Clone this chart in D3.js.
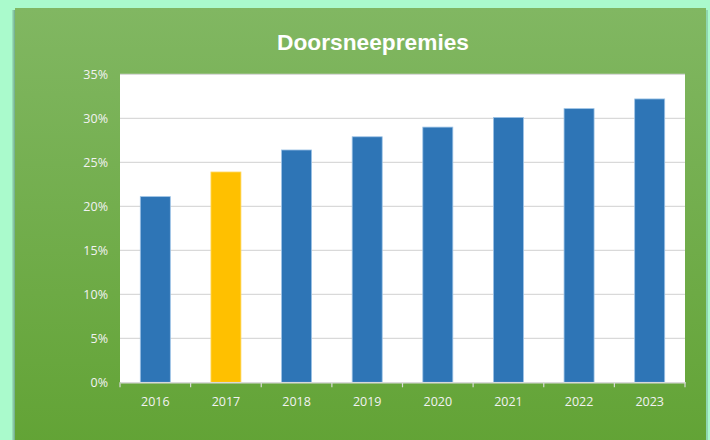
<!DOCTYPE html>
<html><head><meta charset="utf-8">
<script src="https://cdn.jsdelivr.net/npm/d3@7"></script>
<style>
html,body{margin:0;padding:0;background:#aafacc;}
svg{display:block;}
</style></head>
<body>
<script>
const categories = ["2016","2017","2018","2019","2020","2021","2022","2023"];
const values = [21.1, 23.9, 26.4, 27.9, 29.0, 30.1, 31.1, 32.2];
const highlight = ["2017"];
const yTicks = [0,5,10,15,20,25,30,35];
const title = "Doorsneepremies";

const W = 710, H = 440;
const svg = d3.select("body").append("svg").attr("width", W).attr("height", H);
const defs = svg.append("defs");
const g1 = defs.append("linearGradient").attr("id","bg").attr("x1",0).attr("y1",0).attr("x2",0).attr("y2",1);
g1.append("stop").attr("offset","0%").attr("stop-color","#81b762");
g1.append("stop").attr("offset","100%").attr("stop-color","#62a335");
const sh = defs.append("linearGradient").attr("id","sh").attr("x1",0).attr("y1",0).attr("x2",1).attr("y2",0);
sh.append("stop").attr("offset","0%").attr("stop-color","#9fe8c0");
sh.append("stop").attr("offset","100%").attr("stop-color","#6fa88a");

svg.append("rect").attr("width",W).attr("height",H).attr("fill","#aafacc");
// shadow
svg.append("rect").attr("x",12).attr("y",10).attr("width",3).attr("height",H).attr("fill","url(#sh)");
svg.append("rect").attr("x",706).attr("y",10).attr("width",2).attr("height",H).attr("fill","#8fd6b0");
svg.append("rect").attr("x",15).attr("y",8).attr("width",691).attr("height",H).attr("fill","url(#bg)");

svg.append("text").attr("x",373).attr("y",50).attr("text-anchor","middle")
  .attr("font-family","Liberation Sans, Arial, sans-serif").attr("font-weight","bold")
  .attr("font-size",21.5).attr("textLength",192).attr("lengthAdjust","spacingAndGlyphs")
  .attr("fill","#ffffff").text(title);

const m = {left:120, right:685, top:74.3, bottom:382.3};
const x = d3.scaleBand().domain(categories).range([m.left, m.right]).paddingInner(0.575).paddingOuter(0.2875);
const y = d3.scaleLinear().domain([0,35]).range([m.bottom, m.top]);

svg.append("rect").attr("x",m.left).attr("y",m.top).attr("width",m.right-m.left).attr("height",m.bottom-m.top).attr("fill","#ffffff");

// gridlines
svg.append("g").selectAll("line").data(yTicks.filter(d=>d>0)).join("line")
  .attr("x1",m.left).attr("x2",m.right).attr("y1",d=>y(d)).attr("y2",d=>y(d))
  .attr("stroke","#d9d9d9").attr("stroke-width",1.2);

// bars
svg.append("g").selectAll("rect").data(categories).join("rect")
  .attr("x",d=>x(d)).attr("width",x.bandwidth())
  .attr("y",(d,i)=>y(values[i])).attr("height",(d,i)=>y(0)-y(values[i]))
  .attr("fill",d=>highlight.includes(d)?"#ffc000":"#2e75b6")
  .attr("stroke",d=>highlight.includes(d)?"#ffd966":"#9dc3e6").attr("stroke-width",0.8);

// y axis labels
const yAxis = d3.axisLeft(y).tickValues(yTicks).tickFormat(d=>d+"%").tickSize(0).tickPadding(12);
const ya = svg.append("g").attr("transform",`translate(${m.left},0)`).call(yAxis);
ya.select(".domain").remove();
ya.selectAll("text").attr("fill","#f2f2f2").attr("font-size",12.5)
  .attr("font-family","Open Sans, Liberation Sans, sans-serif").attr("dy","0.35em");

// x axis
const xa = svg.append("g").attr("transform",`translate(0,${m.bottom})`)
  .call(d3.axisBottom(x).tickSize(0).tickPadding(15));
xa.select(".domain").attr("stroke","#d9d9d9").attr("stroke-width",1.5);
xa.selectAll("text").attr("fill","#f2f2f2").attr("font-size",12.5)
  .attr("font-family","Open Sans, Liberation Sans, sans-serif");
const bounds = d3.range(categories.length+1).map(i=>m.left + i*(m.right-m.left)/categories.length);
xa.append("g").selectAll("line").data(bounds).join("line")
  .attr("x1",d=>d).attr("x2",d=>d).attr("y1",0).attr("y2",5)
  .attr("stroke","#d9d9d9").attr("stroke-width",1.2);
</script>
</body></html>
